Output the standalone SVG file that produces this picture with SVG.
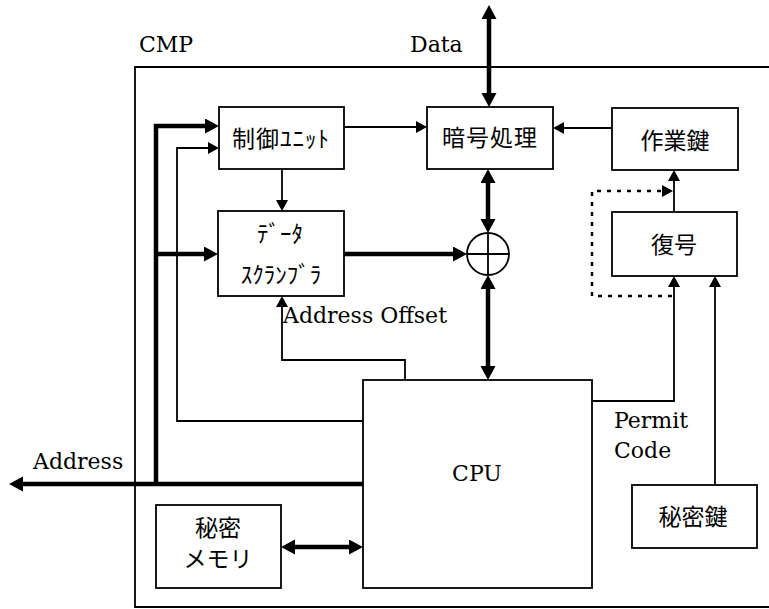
<svg xmlns="http://www.w3.org/2000/svg" width="769" height="609" viewBox="0 0 769 609">
  <style>
    .box { fill: #fff; stroke: #000; stroke-width: 1.8; }
    .frame { fill: none; stroke: #000; stroke-width: 1.8; }
    .thin { fill: none; stroke: #000; stroke-width: 1.8; marker-end: url(#headThin); }
    .thick { fill: none; stroke: #000; stroke-width: 4.5; marker-end: url(#headThick); }
    .both { marker-start: url(#headThick); }
    .dash { fill: none; stroke: #000; stroke-width: 2.5; stroke-dasharray: 4 6; marker-end: url(#headThin); }
    .lat { font-family: "DejaVu Serif", "Liberation Serif", serif; font-size: 22px; fill: #000; }
    .jp { font-family: "Noto Sans CJK JP", sans-serif; font-size: 23px; fill: #000; text-anchor: middle; dominant-baseline: central; }
  </style>
  <defs>
    <marker id="headThick" markerUnits="userSpaceOnUse" markerWidth="15" markerHeight="16" refX="2" refY="7.5" orient="auto-start-reverse">
      <path d="M0,0 L14,7.5 L0,15 z" fill="#000"/>
    </marker>
    <marker id="headThin" markerUnits="userSpaceOnUse" markerWidth="12" markerHeight="13" refX="1" refY="6" orient="auto-start-reverse">
      <path d="M0,0 L11,6 L0,12 z" fill="#000"/>
    </marker>
  </defs>

  <rect width="769" height="609" fill="#fff"/>

  <!-- chip boundary -->
  <g id="cmp">
    <path class="frame" d="M780,67 H135 V607 H780"/>
    <text class="lat" x="139" y="52">CMP</text>
  </g>

  <!-- connectors -->
  <g id="connectors">
    <!-- external data bus -->
    <line class="thick both" x1="489" y1="17" x2="489" y2="95"/>
    <!-- control unit to cipher -->
    <line class="thin" x1="344" y1="127" x2="417" y2="127"/>
    <!-- working key to cipher -->
    <line class="thin" x1="612" y1="128" x2="563" y2="128"/>
    <!-- control unit to scrambler -->
    <line class="thin" x1="282" y1="169" x2="282" y2="201"/>
    <!-- scrambler to XOR -->
    <line class="thick" x1="344" y1="254" x2="455" y2="254"/>
    <!-- cipher <-> XOR -->
    <line class="thick both" x1="488" y1="181" x2="488" y2="221"/>
    <!-- XOR <-> CPU -->
    <line class="thick both" x1="488" y1="287" x2="488" y2="368"/>
    <!-- address offset -->
    <path class="thin" d="M405,380 V360 H282 V306"/>
    <!-- address bus -->
    <line class="thick" x1="363" y1="484" x2="21" y2="484"/>
    <path class="thick" d="M156,484 V126 H207"/>
    <line class="thick" x1="156" y1="254" x2="206" y2="254"/>
    <!-- CPU control line -->
    <path class="thin" d="M363,421 H177 V148 H209"/>
    <!-- secret memory <-> CPU -->
    <line class="thick both" x1="293" y1="547" x2="351" y2="547"/>
    <!-- permit code -->
    <path class="thin" d="M592,401 H674 V286"/>
    <!-- secret key to decrypt -->
    <line class="thin" x1="715" y1="485" x2="715" y2="286"/>
    <!-- decrypt to working key -->
    <line class="thin" x1="674" y1="212" x2="674" y2="180"/>
    <!-- dotted bypass -->
    <path class="dash" d="M672,296 H592 V191 H663"/>
  </g>

  <g id="ctrl">
    <rect class="box" x="219" y="107" width="125" height="62"/>
    <text class="jp" x="281" y="137" letter-spacing="1">制御ﾕﾆｯﾄ</text>
  </g>

  <g id="cipher">
    <rect class="box" x="427" y="107" width="126" height="62"/>
    <text class="jp" x="490" y="136" letter-spacing="1">暗号処理</text>
  </g>

  <g id="workkey">
    <rect class="box" x="612" y="108" width="126" height="62"/>
    <text class="jp" x="675" y="139">作業鍵</text>
  </g>

  <g id="scrambler">
    <rect class="box" x="218" y="211" width="126" height="85"/>
    <text class="jp" x="280" y="232">ﾃﾞｰﾀ</text>
    <text class="jp" x="281" y="273">ｽｸﾗﾝﾌﾞﾗ</text>
  </g>

  <g id="xor">
    <circle cx="488" cy="254" r="21" fill="#fff" stroke="#000" stroke-width="1.8"/>
    <path d="M467,254 H509 M488,233 V275" stroke="#000" stroke-width="1.8"/>
  </g>

  <g id="decrypt">
    <rect class="box" x="612" y="212" width="125" height="64"/>
    <text class="jp" x="674" y="243">復号</text>
  </g>

  <g id="cpu">
    <rect class="box" x="363" y="380" width="229" height="208"/>
    <text class="lat" x="477" y="481" text-anchor="middle">CPU</text>
  </g>

  <g id="secretmem">
    <rect class="box" x="156" y="505" width="125" height="83"/>
    <text class="jp" x="218" y="526">秘密</text>
    <text class="jp" x="218" y="557">メモリ</text>
  </g>

  <g id="secretkey">
    <rect class="box" x="632" y="485" width="125" height="63"/>
    <text class="jp" x="693" y="515">秘密鍵</text>
  </g>

  <!-- signal labels -->
  <g id="labels">
    <text class="lat" x="410" y="52">Data</text>
    <text class="lat" x="283" y="323">Address Offset</text>
    <text class="lat" x="33" y="469">Address</text>
    <text class="lat" x="614" y="428">Permit</text>
    <text class="lat" x="614" y="458">Code</text>
  </g>
</svg>
